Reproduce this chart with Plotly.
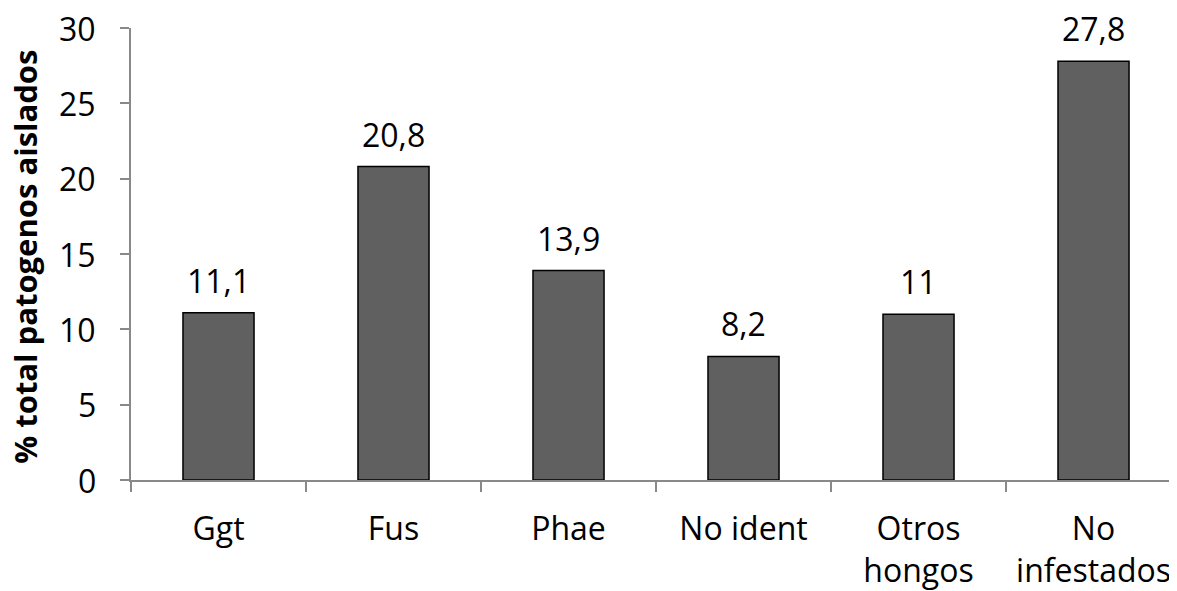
import plotly.graph_objects as go

categories = ["Ggt", "Fus", "Phae", "No ident", "Otros<br>hongos", "No<br>infestados"]
values = [11.1, 20.8, 13.9, 8.2, 11.0, 27.8]
value_labels = ["11,1", "20,8", "13,9", "8,2", "11", "27,8"]
y_ticks = [0, 5, 10, 15, 20, 25, 30]
# text block at the right edge of the original picture, cut off by its border
clipped_legend = ["Ggt", "Fus", "Phae", "No ident", "Otros", "..."]

FONT = "Open Sans"
AXIS_COLOR = "#898989"
FS = 32

# page body has an 8px margin in the browser; compensate
W, H = 1169, 583
ML, MR, MT, MB = 123, 0, 20, 111
PLOT_H = H - MT - MB

fig = go.Figure()
fig.add_trace(go.Bar(
    x=categories, y=values,
    marker=dict(color="#606060", line=dict(color="#000000", width=1.5)),
    width=0.406,
    hoverinfo="skip",
))

for c, v, t in zip(categories, values, value_labels):
    fig.add_annotation(x=c, y=v, text=t, showarrow=False, yanchor="bottom",
                       yshift=9, font=dict(family=FONT, size=FS, color="#000"))

# y tick labels
for v in y_ticks:
    fig.add_annotation(x=0, xref="paper", y=v, yref="y", text=str(v), showarrow=False,
                       xanchor="right", yanchor="middle", xshift=-33,
                       font=dict(family=FONT, size=FS, color="#000"))

for i, t in enumerate(clipped_legend):
    ypix = 94 + 38.4 * i - 8  # cap centre in figure pixels
    fig.add_annotation(x=1.0, xref="paper", y=1 - (ypix - MT) / PLOT_H, yref="paper",
                       text=t, showarrow=False, xanchor="left", yanchor="middle", xshift=-5,
                       font=dict(family=FONT, size=27, color="#000"))

fig.add_annotation(x=0, xref="paper", y=0.494, yref="paper", xshift=-129,
                   text="<b>% total patogenos aislados</b>", textangle=-90, showarrow=False,
                   font=dict(family=FONT, size=31, color="#000"))

fig.update_layout(
    width=W, height=H,
    margin=dict(l=ML, r=MR, t=MT, b=MB),
    paper_bgcolor="white", plot_bgcolor="white",
    showlegend=False,
    font=dict(family=FONT, size=FS, color="#000"),
    xaxis=dict(range=[-0.5, 5.477], showline=True, linecolor=AXIS_COLOR, linewidth=1.5,
               ticks="outside", tickson="boundaries", ticklen=10, tickcolor=AXIS_COLOR, tickwidth=1.5,
               showgrid=False, ticklabelstandoff=20, tickfont=dict(family=FONT, size=FS, color="#000")),
    yaxis=dict(range=[0, 30], tickvals=y_ticks, showline=True, linecolor=AXIS_COLOR, linewidth=1.5,
               ticks="outside", ticklen=9, tickcolor=AXIS_COLOR, tickwidth=1.5, showgrid=False,
               zeroline=False, showticklabels=False),
)

fig.write_html("out.html")
